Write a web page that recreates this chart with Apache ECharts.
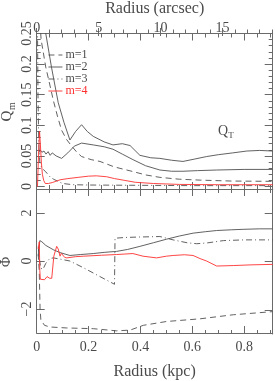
<!DOCTYPE html>
<html><head><meta charset="utf-8">
<script src="https://cdn.jsdelivr.net/npm/echarts@6/dist/echarts.min.js"></script>
<style>html,body{margin:0;padding:0;background:#fff}#c{width:275px;height:381px}</style>
</head><body><div id="c"></div>
<script>
// ---------- data (radius in kpc, value) ----------
const qT = [[0.02,0.29],[0.035,0.25],[0.057,0.195],[0.083,0.137],[0.105,0.105],[0.128,0.076],[0.15,0.09],[0.173,0.101],[0.195,0.09],[0.218,0.082],[0.26,0.073],[0.294,0.068],[0.33,0.07],[0.36,0.067],[0.398,0.051],[0.44,0.047],[0.475,0.046],[0.52,0.043],[0.564,0.041],[0.61,0.045],[0.655,0.049],[0.7,0.052],[0.756,0.055],[0.81,0.058],[0.86,0.059],[0.91,0.058]];
const qM1 = [[0.008,0.3],[0.017,0.24],[0.035,0.195],[0.055,0.158],[0.064,0.141],[0.08,0.115],[0.096,0.092],[0.115,0.077],[0.135,0.066],[0.155,0.056],[0.173,0.049],[0.21,0.044],[0.244,0.041],[0.3,0.032],[0.371,0.0245],[0.42,0.019],[0.475,0.015],[0.55,0.012],[0.63,0.0105],[0.75,0.009],[0.91,0.0085]];
const qM2 = [[0.008,0.055],[0.013,0.06],[0.02,0.056],[0.028,0.058],[0.036,0.053],[0.044,0.057],[0.052,0.051],[0.06,0.055],[0.075,0.05],[0.096,0.046],[0.12,0.055],[0.145,0.066],[0.173,0.071],[0.218,0.068],[0.26,0.065],[0.294,0.061],[0.33,0.053],[0.371,0.044],[0.42,0.034],[0.475,0.027],[0.52,0.025],[0.564,0.025],[0.62,0.026],[0.694,0.027],[0.8,0.028],[0.91,0.028]];
const qM3 = [[0.003,0.26],[0.005,0.15],[0.008,0.07],[0.012,0.04],[0.02,0.03],[0.035,0.024],[0.051,0.016],[0.065,0.012],[0.08,0.009],[0.1,0.005],[0.14,0.003],[0.2,0.0025],[0.4,0.002],[0.6,0.0015],[0.91,0.0015]];
const qM4 = [[0.003,0.0],[0.007,0.05],[0.011,0.09],[0.014,0.07],[0.018,0.04],[0.022,0.02],[0.027,0.01],[0.033,0.005],[0.045,0.005],[0.06,0.0065],[0.09,0.011],[0.12,0.013],[0.16,0.015],[0.2,0.017],[0.23,0.0175],[0.27,0.016],[0.3,0.013],[0.34,0.01],[0.38,0.007],[0.45,0.005],[0.55,0.0035],[0.7,0.003],[0.91,0.003]];

const phiM1 = [[0.006,0.3],[0.01,-0.5],[0.013,-2.0],[0.016,-2.45],[0.03,-2.68],[0.051,-2.75],[0.116,-2.79],[0.218,-2.82],[0.308,-2.91],[0.36,-2.88],[0.411,-2.68],[0.501,-2.52],[0.629,-2.41],[0.758,-2.24],[0.91,-2.11]];
const phiM2 = [[0.006,0.2],[0.012,0.85],[0.02,0.8],[0.035,0.65],[0.064,0.47],[0.09,0.35],[0.128,0.23],[0.17,0.27],[0.218,0.31],[0.26,0.36],[0.308,0.4],[0.35,0.48],[0.398,0.61],[0.45,0.76],[0.501,0.91],[0.55,1.04],[0.603,1.16],[0.65,1.22],[0.694,1.27],[0.75,1.3],[0.796,1.32],[0.86,1.34],[0.91,1.34]];
const phiM3 = [[0.006,0.6],[0.01,0.1],[0.016,-0.3],[0.024,-0.35],[0.035,-0.1],[0.05,0.1],[0.064,0.13],[0.09,0.08],[0.128,0.0],[0.18,-0.28],[0.244,-0.65],[0.3,-0.97],[0.302,0.95],[0.34,0.98],[0.398,1.0],[0.475,1.02],[0.526,0.88],[0.58,0.76],[0.617,0.72],[0.655,0.75],[0.72,0.85],[0.8,0.88],[0.91,0.88]];
const phiM4 = [[0.006,0.5],[0.01,0.8],[0.012,-0.4],[0.014,-0.76],[0.02,-0.7],[0.03,-0.78],[0.04,-0.65],[0.05,-0.72],[0.058,-0.72],[0.066,0.2],[0.077,0.61],[0.083,0.5],[0.09,0.2],[0.095,0.32],[0.101,0.35],[0.108,0.15],[0.116,0.13],[0.15,0.18],[0.18,0.2],[0.25,0.24],[0.308,0.27],[0.34,0.29],[0.371,0.31],[0.41,0.2],[0.462,0.13],[0.5,0.2],[0.526,0.23],[0.57,0.26],[0.603,0.23],[0.63,0.1],[0.655,0.0],[0.694,-0.21],[0.758,-0.19],[0.83,-0.16],[0.91,-0.14]];

// ---------- tick labels ----------
const kpcLabels = [0,0.2,0.4,0.6,0.8];
const kpcMinor = [0.05,0.1,0.15,0.25,0.3,0.35,0.45,0.5,0.55,0.65,0.7,0.75,0.85,0.9];
const arcLabels = [0,5,10,15];
const arcMinor = [1,2,3,4,6,7,8,9,11,12,13,14,16,17,18,19];
const qLabels = [0,0.05,0.1,0.15,0.2,0.25];
const qMinor = [0.01,0.02,0.03,0.04,0.06,0.07,0.08,0.09,0.11,0.12,0.13,0.14,0.16,0.17,0.18,0.19,0.21,0.22,0.23,0.24];
const phiLabels = [-2,0,2];

const KPC_MAX = 0.91, ARC_MAX = 19.05, Q_MIN = -0.004, Q_MAX = 0.25, PHI_MIN = -3, PHI_MAX = 3;
const FONT = 'Liberation Serif', TXT = '#4a4a4a', AX = '#6a6a6a', LINE = '#505050', RED = '#ff3030';

const GT = {left:36.7, top:33.5, width:236, height:155.5};
const GB = {left:36.7, top:189, width:236, height:145};

const grids = [], xAxes = [], yAxes = [];
function addGrid(r){ grids.push(Object.assign({}, r)); return grids.length - 1; }
function aLine(show){ return {show:show, onZero:false, lineStyle:{color:AX, width:1}}; }
function tick(vals, len, inside){ return {show:true, inside:inside, length:len, customValues:vals, lineStyle:{color:AX, width:1}}; }
const noLabel = {show:false};
const noSplit = {show:false};
function fmt(v){ const s = String(+(+v).toFixed(3)); return s.replace('-', '\u2212'); }
function lbl(vals, extra){ return Object.assign({show:true, customValues:vals, fontFamily:FONT, fontSize:14, color:TXT, formatter:fmt}, extra||{}); }
function X(g, pos, min, max, o){ xAxes.push(Object.assign({gridIndex:g, type:'value', position:pos, min:min, max:max, axisLine:aLine(false), axisTick:{show:false}, axisLabel:noLabel, splitLine:noSplit}, o||{})); return xAxes.length-1; }
function Y(g, pos, min, max, o){ yAxes.push(Object.assign({gridIndex:g, type:'value', position:pos, min:min, max:max, axisLine:aLine(false), axisTick:{show:false}, axisLabel:noLabel, splitLine:noSplit}, o||{})); return yAxes.length-1; }

// top panel
const g0 = addGrid(GT);
const xTop = X(g0,'bottom',0,KPC_MAX,{axisLine:aLine(true), axisTick:tick(kpcLabels,7,true)});
const yTop = Y(g0,'left',Q_MIN,Q_MAX,{axisLine:aLine(true), axisTick:tick(qLabels,8,true), axisLabel:lbl(qLabels,{rotate:90, margin:2})});
const g1 = addGrid(GT);
X(g1,'bottom',0,KPC_MAX,{axisTick:tick(kpcMinor,4,true)});
Y(g1,'left',Q_MIN,Q_MAX,{axisTick:tick(qMinor,4,true)});
const g2 = addGrid(GT);
X(g2,'top',0,KPC_MAX,{axisLine:aLine(true), axisTick:tick(kpcLabels,7,true)});
Y(g2,'right',Q_MIN,Q_MAX,{axisLine:aLine(true), axisTick:tick(qLabels,8,true)});
const g3 = addGrid(GT);
X(g3,'top',0,KPC_MAX,{axisTick:tick(kpcMinor,4,true)});
Y(g3,'right',Q_MIN,Q_MAX,{axisTick:tick(qMinor,4,true)});
const g4 = addGrid(GT);
X(g4,'top',0,ARC_MAX,{axisTick:tick(arcLabels,8,false), axisLabel:lbl(arcLabels,{margin:1}),
  name:'Radius (arcsec)', nameLocation:'middle', nameGap:19, nameTextStyle:{fontFamily:FONT, fontSize:16, color:TXT}});
Y(g4,'left',0,1,{show:false});
const g5 = addGrid(GT);
X(g5,'top',0,ARC_MAX,{axisTick:tick(arcMinor,4,false)});
Y(g5,'left',0,1,{show:false});

// bottom panel
const g6 = addGrid(GB);
const xBot = X(g6,'bottom',0,KPC_MAX,{axisLine:aLine(true), axisTick:tick(kpcLabels,7,true), axisLabel:lbl(kpcLabels,{margin:7}),
  name:'Radius (kpc)', nameLocation:'middle', nameGap:31, nameTextStyle:{fontFamily:FONT, fontSize:16, color:TXT}});
const yBot = Y(g6,'left',PHI_MIN,PHI_MAX,{axisLine:aLine(true), axisTick:tick(phiLabels,8,true), axisLabel:lbl(phiLabels,{rotate:90, margin:2})});
const g7 = addGrid(GB);
X(g7,'bottom',0,KPC_MAX,{axisTick:tick(kpcMinor,4,true)});
Y(g7,'left',PHI_MIN,PHI_MAX,{show:false});
const g8 = addGrid(GB);
X(g8,'top',0,KPC_MAX,{axisLine:aLine(true), axisTick:tick(kpcLabels,7,true)});
Y(g8,'right',PHI_MIN,PHI_MAX,{axisLine:aLine(true), axisTick:tick(phiLabels,8,true)});
const g9 = addGrid(GB);
X(g9,'top',0,KPC_MAX,{axisTick:tick(kpcMinor,4,true)});
Y(g9,'right',PHI_MIN,PHI_MAX,{show:false});

function S(name, data, xi, yi, type, color){
  return {name:name, type:'line', data:data, xAxisIndex:xi, yAxisIndex:yi, symbol:'none', showSymbol:false,
    clip:true, silent:true, animation:false, lineStyle:{color:color||LINE, width:0.9, type:type||'solid'}, itemStyle:{color:color||LINE}};
}
const DASH = [6,4], DDOT = [6,3,1,3];
const series = [
  S('QT', qT, xTop, yTop),
  S('m=1', qM1, xTop, yTop, DASH),
  S('m=2', qM2, xTop, yTop),
  S('m=3', qM3, xTop, yTop, DDOT),
  S('m=4', qM4, xTop, yTop, 'solid', RED),
  S('m=1', phiM1, xBot, yBot, DASH),
  S('m=2', phiM2, xBot, yBot),
  S('m=3', phiM3, xBot, yBot, DDOT),
  S('m=4', phiM4, xBot, yBot, 'solid', RED)
];

const gtxt = (t, x, y, size, rot, color) => ({type:'text', x:x, y:y, rotation:rot||0, silent:true,
  style:{text:t, font: size + 'px "' + FONT + '"', fill:color||TXT, align:'center', verticalAlign:'middle'}});

const chart = echarts.init(document.getElementById('c'), null, {renderer:'canvas'});
chart.setOption({
  animation:false,
  backgroundColor:'#fff',
  grid:grids, xAxis:xAxes, yAxis:yAxes, series:series,
  legend:{show:true, orient:'vertical', left:48, top:49, padding:0, itemGap:0, itemWidth:14, itemHeight:9.5, selectedMode:false,
    itemStyle:{opacity:0, borderWidth:0}, lineStyle:{width:0.9},
    textStyle:{fontFamily:FONT, fontSize:12, color:TXT, lineHeight:9.5, padding:[0,0,0,-2]},
    data:[{name:'m=1'},{name:'m=2'},{name:'m=3'},{name:'m=4', textStyle:{color:RED}}]},
  graphic:[
    gtxt('Q', 7, 116, 15, Math.PI/2),
    gtxt('m', 12, 106, 10, Math.PI/2),
    gtxt('\u03a6', 6, 262, 14, Math.PI/2),
    gtxt('Q', 223, 131, 14, 0),
    gtxt('T', 231, 135.5, 9, 0)
  ]
});
</script></body></html>
